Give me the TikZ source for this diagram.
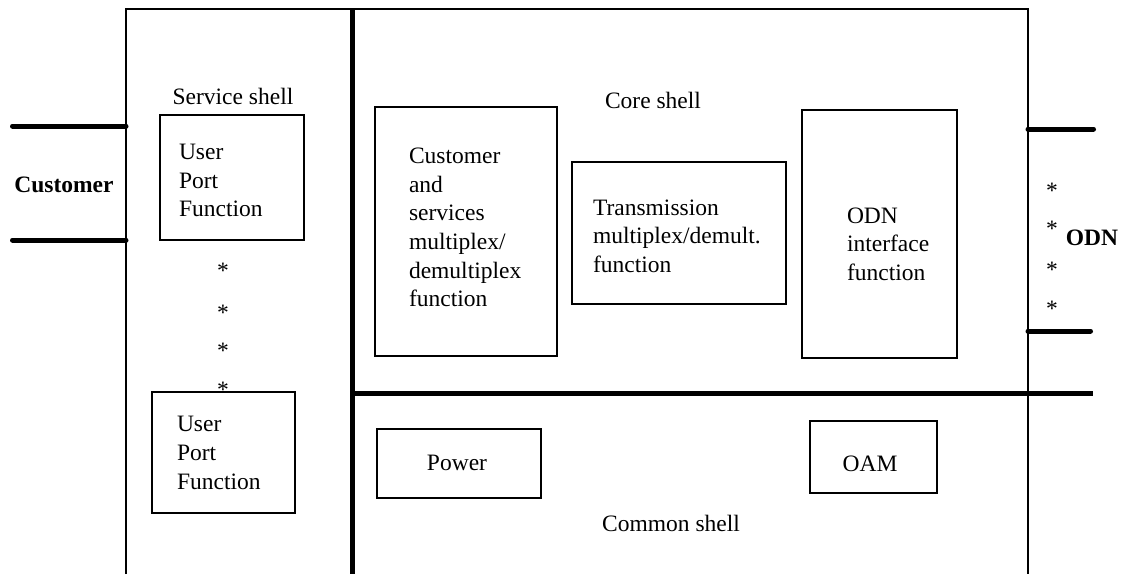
\documentclass[tikz,border=0pt]{standalone}
\usepackage{fontspec}
\setmainfont{Liberation Serif}
\begin{document}
\begin{tikzpicture}[x=0.5pt,y=-0.5pt,
  box/.style={draw, line width=0.65pt, inner sep=0pt, outer sep=0pt},
  txt/.style={inner sep=0pt, outer sep=0pt, align=left, font=\fontsize{11.75}{14.3}\selectfont},
  boldtxt/.style={txt, font=\fontsize{11.75}{14.3}\selectfont\bfseries},
  star/.style={inner sep=0pt, outer sep=0pt, anchor=base, font=\fontsize{11.75}{14.3}\selectfont},
  frameline/.style={line width=0.6pt},
  thickline/.style={line width=2.5pt},
  portline/.style={line width=2.5pt, line cap=round}]

\useasboundingbox (0,0) rectangle (1125,574);

% frame
\coordinate (ftl) at (126,9);
\coordinate (ftr) at (1028,9);
\coordinate (fbl) at (126,574);
\coordinate (fbr) at (1028,574);
\draw[frameline] (fbl) -- (ftl) -- (ftr) -- (fbr);

% dividing lines
\coordinate (vt) at (352,9);
\coordinate (vb) at (352,574);
\coordinate (hl) at (352,393);
\coordinate (hr) at (1093,393);
\draw[thickline] (vt) -- (vb);
\draw[thickline] (hl) -- (hr);

% customer ports
\coordinate (c1a) at (12.5,126);
\coordinate (c1b) at (126,126);
\coordinate (c2a) at (12.5,240);
\coordinate (c2b) at (126,240);
\draw[portline] (c1a) -- (c1b);
\draw[portline] (c2a) -- (c2b);

% ODN ports
\coordinate (o1a) at (1028,129);
\coordinate (o1b) at (1093.5,129);
\coordinate (o2a) at (1028,331);
\coordinate (o2b) at (1090.5,331);
\draw[portline] (o1a) -- (o1b);
\draw[portline] (o2a) -- (o2b);

% boxes
\node[box, minimum width=72pt, minimum height=62.5pt] (upf1) at (232,177.5) {};
\node[box, minimum width=71.5pt, minimum height=60.5pt] (upf2) at (223.5,452.5) {};
\node[box, minimum width=91pt, minimum height=124.5pt] (csm) at (466,231.5) {};
\node[box, minimum width=107pt, minimum height=71pt] (trn) at (679,233) {};
\node[box, minimum width=77.5pt, minimum height=124pt] (odnif) at (879.5,234) {};
\node[box, minimum width=82pt, minimum height=34.5pt] (pwr) at (459,463.5) {};
\node[box, minimum width=63.5pt, minimum height=36pt] (oam) at (873.5,457) {};

% box texts
\node[txt, anchor=west] (upf1t) at (179,180.5) {User\\Port\\Function};
\node[txt, anchor=west] (upf2t) at (177,453) {User\\Port\\Function};
\node[txt, anchor=west] (csmt) at (409,227.5) {Customer\\and\\services\\multiplex/\\demultiplex\\function};
\node[txt, anchor=west] (trnt) at (593,236) {Transmission\\multiplex/demult.\\function};
\node[txt, anchor=west] (odnift) at (847,244) {ODN\\interface\\function};
\node[txt] (pwrt) at (457,463) {Power};
\node[txt] (oamt) at (870,464) {OAM};

% labels
\node[txt] (service) at (233,96) {Service shell};
\node[txt] (core) at (653,100) {Core shell};
\node[txt] (common) at (671,523) {Common shell};
\node[boldtxt] (customer) at (64,185) {Customer};
\node[boldtxt] (odn) at (1092,238) {ODN};

% stars
\node[star] (s1) at (223,278) {*};
\node[star] (s2) at (223,320) {*};
\node[star] (s3) at (223,358) {*};
\node[star] (s4) at (223,397) {*};
\node[star] (r1) at (1052,198) {*};
\node[star] (r2) at (1052,236) {*};
\node[star] (r3) at (1052,277) {*};
\node[star] (r4) at (1052,316) {*};
\end{tikzpicture}
\end{document}
